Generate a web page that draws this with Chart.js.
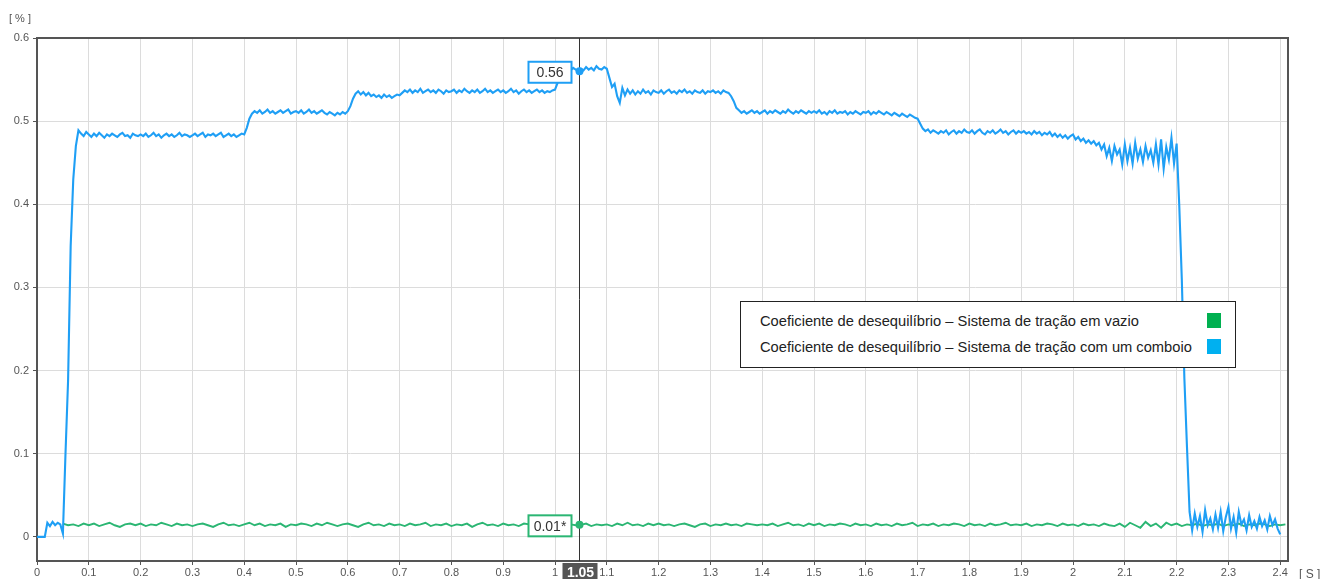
<!DOCTYPE html>
<html>
<head>
<meta charset="utf-8">
<script src="https://cdn.jsdelivr.net/npm/chart.js@4.4.1/dist/chart.umd.min.js"></script>
<style>
    body { margin: 0; background: #fff; font-family: "Liberation Sans", Arial, sans-serif; }
    #wrap { position: relative; width: 1335px; height: 579px; }
    #legend {
        position: absolute; left: 740px; top: 301px; width: 494px; height: 65px;
        border: 1.5px solid #222; background: #fff; color: #222; font-size: 14.7px;
    }
    #legend .row { position: absolute; left: 19px; right: 14px; height: 16px; line-height: 16px; }
    #legend .sw { position: absolute; right: 0; top: 0; width: 14px; height: 15px; }
</style>
</head>
<body>
<div id="wrap">
    <canvas id="chart" width="1335" height="579"></canvas>
    <div id="legend"></div>
</div>
<script>
// ---- data ----
const seriesNames = [
    'Coeficiente de desequilíbrio – Sistema de tração em vazio',
    'Coeficiente de desequilíbrio – Sistema de tração com um comboio'
];
const legendColors = ['#00b050', '#00b0f0'];
const lineColors = ['#2bb673', '#1f9ff5'];

// blue series: one sample every 0.005 s starting at 0
const blueStart = 0, blueStep = 0.005;
const blueValues = [
    0, 0, 0, 0, 0.017, 0.013, 0.018, 0.014, 0.017, 0.015, 0.004, 0.1, 0.188, 0.35, 0.43, 0.47, 0.489, 0.485, 0.482, 0.487,
    0.484, 0.481, 0.485, 0.482, 0.486, 0.483, 0.480, 0.484, 0.482, 0.485, 0.483, 0.481, 0.484, 0.486, 0.482, 0.483, 0.480, 0.485, 0.483, 0.482,
    0.484, 0.482, 0.485, 0.481, 0.483, 0.486, 0.482, 0.484, 0.480, 0.483, 0.485, 0.482, 0.484, 0.481, 0.483, 0.486, 0.482, 0.484, 0.483, 0.481,
    0.483, 0.485, 0.482, 0.484, 0.486, 0.481, 0.484, 0.483, 0.485, 0.482, 0.484, 0.486, 0.481, 0.483, 0.485, 0.482, 0.484, 0.481, 0.483, 0.485,
    0.484, 0.492, 0.503, 0.509, 0.512, 0.510, 0.513, 0.509, 0.511, 0.514, 0.510, 0.512, 0.509, 0.511, 0.513, 0.510, 0.512, 0.514, 0.509, 0.511,
    0.512, 0.510, 0.513, 0.509, 0.511, 0.514, 0.510, 0.512, 0.509, 0.511, 0.513, 0.510, 0.508, 0.511, 0.509, 0.507, 0.510, 0.508, 0.511, 0.509,
    0.512, 0.518, 0.527, 0.533, 0.536, 0.532, 0.535, 0.531, 0.534, 0.530, 0.532, 0.529, 0.531, 0.528, 0.532, 0.529, 0.531, 0.528, 0.530, 0.532,
    0.531, 0.534, 0.537, 0.535, 0.538, 0.534, 0.537, 0.535, 0.539, 0.534, 0.536, 0.538, 0.535, 0.537, 0.534, 0.538, 0.536, 0.533, 0.537, 0.535,
    0.536, 0.538, 0.534, 0.537, 0.535, 0.539, 0.536, 0.534, 0.537, 0.535, 0.538, 0.534, 0.536, 0.539, 0.535, 0.537, 0.534, 0.536, 0.538, 0.535,
    0.537, 0.534, 0.536, 0.539, 0.535, 0.537, 0.533, 0.536, 0.538, 0.535, 0.537, 0.534, 0.536, 0.538, 0.535, 0.537, 0.534, 0.536, 0.535, 0.537,
    0.538, 0.546, 0.555, 0.559, 0.562, 0.565, 0.561, 0.564, 0.562, 0.560, 0.563, 0.561, 0.565, 0.562, 0.564, 0.561, 0.566, 0.563, 0.562, 0.565,
    0.563, 0.552, 0.541, 0.545, 0.530, 0.522, 0.540, 0.531, 0.538, 0.533, 0.537, 0.532, 0.536, 0.533, 0.538, 0.534, 0.536, 0.532, 0.537, 0.535,
    0.534, 0.537, 0.533, 0.536, 0.538, 0.534, 0.536, 0.533, 0.537, 0.535, 0.538, 0.534, 0.536, 0.533, 0.537, 0.535, 0.534, 0.537, 0.533, 0.536,
    0.535, 0.537, 0.534, 0.536, 0.533, 0.537, 0.535, 0.534, 0.530, 0.524, 0.516, 0.513, 0.510, 0.512, 0.509, 0.511, 0.513, 0.510, 0.512, 0.509,
    0.511, 0.513, 0.509, 0.512, 0.510, 0.513, 0.511, 0.509, 0.512, 0.510, 0.514, 0.511, 0.509, 0.512, 0.510, 0.513, 0.511, 0.509, 0.512, 0.510,
    0.512, 0.510, 0.513, 0.509, 0.511, 0.508, 0.512, 0.510, 0.513, 0.509, 0.511, 0.510, 0.512, 0.508, 0.511, 0.509, 0.512, 0.510, 0.508, 0.511,
    0.510, 0.512, 0.508, 0.511, 0.509, 0.512, 0.510, 0.508, 0.511, 0.509, 0.507, 0.510, 0.508, 0.506, 0.509, 0.507, 0.505, 0.508, 0.506, 0.504,
    0.503, 0.497, 0.491, 0.488, 0.490, 0.486, 0.489, 0.487, 0.485, 0.488, 0.486, 0.489, 0.484, 0.487, 0.489, 0.485, 0.488, 0.486, 0.490, 0.487,
    0.486, 0.489, 0.485, 0.488, 0.490, 0.486, 0.484, 0.488, 0.486, 0.489, 0.485, 0.487, 0.490, 0.486, 0.488, 0.484, 0.487, 0.489, 0.485, 0.488,
    0.486, 0.488, 0.485, 0.487, 0.484, 0.488, 0.485, 0.487, 0.483, 0.486, 0.484, 0.487, 0.482, 0.485, 0.481, 0.484, 0.480, 0.483, 0.479, 0.482,
    0.484, 0.478, 0.481, 0.476, 0.479, 0.474, 0.477, 0.473, 0.476, 0.471, 0.474, 0.466, 0.472, 0.458, 0.468, 0.452, 0.470, 0.460, 0.466, 0.448,
    0.472, 0.452, 0.468, 0.449, 0.474, 0.455, 0.466, 0.451, 0.470, 0.456, 0.465, 0.450, 0.472, 0.448, 0.478, 0.443, 0.469, 0.454, 0.480, 0.449,
    0.473, 0.40, 0.31, 0.19, 0.108, 0.03, 0.008, 0.028, 0.012, 0.025, 0.006, 0.032, 0.014, 0.022, 0.009, 0.027, 0.011, 0.03, 0.007, 0.024,
    0.036, 0.01, 0.024, 0.005, 0.03, 0.015, 0.021, 0.008, 0.026, 0.012, 0.019, 0.01, 0.024, 0.013, 0.02, 0.009, 0.025, 0.014, 0.021, 0.01,
    0.003
];

// green series: one sample every 0.01 s starting at 0.05
const greenStart = 0.05, greenStep = 0.01;
const greenValues = [
    0.016, 0.014, 0.015, 0.013, 0.016,
    0.014, 0.016, 0.013, 0.015, 0.017, 0.014, 0.012, 0.015, 0.016, 0.014,
    0.016, 0.013, 0.015, 0.014, 0.017, 0.015, 0.013, 0.016, 0.014, 0.015,
    0.013, 0.015, 0.016, 0.014, 0.012, 0.015, 0.017, 0.014, 0.015, 0.013,
    0.015, 0.017, 0.014, 0.016, 0.013, 0.015, 0.014, 0.016, 0.012, 0.015,
    0.014, 0.016, 0.015, 0.013, 0.016, 0.014, 0.017, 0.015, 0.013, 0.015,
    0.016, 0.014, 0.012, 0.015, 0.017, 0.014, 0.015, 0.013, 0.016, 0.014,
    0.015, 0.013, 0.016, 0.014, 0.015, 0.017, 0.013, 0.015, 0.014, 0.016,
    0.013, 0.015, 0.014, 0.016, 0.012, 0.015, 0.017, 0.014, 0.015, 0.013,
    0.016, 0.014, 0.015, 0.013, 0.016, 0.015, 0.012, 0.014, 0.016, 0.015,
    0.014, 0.016, 0.013, 0.015, 0.014, 0.0145, 0.016, 0.013, 0.015, 0.014,
    0.015, 0.013, 0.016, 0.014, 0.017, 0.014, 0.015, 0.013, 0.016, 0.014,
    0.016, 0.014, 0.015, 0.013, 0.015, 0.016, 0.014, 0.012, 0.015, 0.016,
    0.013, 0.015, 0.014, 0.016, 0.014, 0.015, 0.013, 0.016, 0.015, 0.014,
    0.015, 0.014, 0.016, 0.013, 0.015, 0.017, 0.014, 0.015, 0.013, 0.016,
    0.014, 0.016, 0.013, 0.015, 0.014, 0.016, 0.015, 0.013, 0.016, 0.014,
    0.015, 0.013, 0.016, 0.014, 0.015, 0.013, 0.016, 0.014, 0.015, 0.017,
    0.013, 0.015, 0.014, 0.016, 0.013, 0.015, 0.014, 0.016, 0.015, 0.013,
    0.016, 0.014, 0.015, 0.013, 0.016, 0.014, 0.015, 0.017, 0.014, 0.015,
    0.014, 0.016, 0.013, 0.015, 0.014, 0.016, 0.015, 0.013, 0.016, 0.014,
    0.015, 0.013, 0.016, 0.014, 0.015, 0.013, 0.016, 0.014, 0.013, 0.016,
    0.012, 0.017, 0.014, 0.011, 0.018, 0.013, 0.016, 0.011, 0.017, 0.014,
    0.016, 0.013, 0.015, 0.014, 0.016, 0.013, 0.015, 0.014, 0.016, 0.013,
    0.015, 0.014, 0.016, 0.013, 0.015, 0.014, 0.016, 0.015, 0.013, 0.015,
    0.014, 0.015
];

// crosshair (cursor) read-out
const cursorX = 1.046;
const cursorLabel = '1.05';
const cursorValueLabels = ['0.01*', '0.56'];   // green, blue

// axis ranges
const xMin = 0, xMax = 2.415, xStep = 0.1;
const yMin = -0.029, yMax = 0.6, yStep = 0.1;

// ---- helpers ----
function toPoints(start, step, values) {
    return values.map((v, i) => ({ x: +(start + i * step).toFixed(4), y: v }));
}

function valueAt(start, step, values, x) {
    const i = Math.round((x - start) / step);
    return values[Math.max(0, Math.min(values.length - 1, i))];
}

const FONT = '"Liberation Sans", Arial, sans-serif';

// plot frame, axis units and cursor read-out
const overlayPlugin = {
    id: 'overlay',
    afterDraw(chart) {
        const ctx = chart.ctx;
        const a = chart.chartArea;
        const xs = chart.scales.x, ys = chart.scales.y;
        ctx.save();

        // top + right frame
        ctx.strokeStyle = '#555';
        ctx.lineWidth = 2;
        ctx.beginPath();
        ctx.moveTo(a.left, a.top);
        ctx.lineTo(a.right, a.top);
        ctx.lineTo(a.right, a.bottom);
        ctx.stroke();

        // units
        ctx.fillStyle = '#555';
        ctx.font = '11px ' + FONT;
        ctx.textBaseline = 'middle';
        ctx.textAlign = 'left';
        ctx.fillText('[ % ]', 9, 19);
        ctx.font = '12px ' + FONT;
        ctx.fillText('[ S ]', 1299, 575);

        // cursor line
        const cx = Math.round(xs.getPixelForValue(cursorX)) + 0.5;
        ctx.strokeStyle = '#333';
        ctx.lineWidth = 1;
        ctx.beginPath();
        ctx.moveTo(cx, a.top);
        ctx.lineTo(cx, a.bottom);
        ctx.stroke();

        // value boxes + markers
        const vals = [
            valueAt(greenStart, greenStep, greenValues, cursorX),
            valueAt(blueStart, blueStep, blueValues, cursorX)
        ];
        vals.forEach((v, k) => {
            const py = ys.getPixelForValue(v);
            ctx.fillStyle = lineColors[k];
            ctx.beginPath();
            ctx.arc(cx, py, 4, 0, Math.PI * 2);
            ctx.fill();

            const w = 43, h = 21, bx = cx - 8 - w, by = py - h / 2 + 1;
            ctx.fillStyle = '#fff';
            ctx.fillRect(bx, by, w, h);
            ctx.strokeStyle = lineColors[k];
            ctx.lineWidth = 2;
            ctx.strokeRect(bx, by, w, h);
            ctx.fillStyle = '#333';
            ctx.font = '14px ' + FONT;
            ctx.textAlign = 'center';
            ctx.fillText(cursorValueLabels[k], bx + w / 2, by + h / 2 + 1);
        });

        // cursor x label
        ctx.fillStyle = '#555';
        ctx.fillRect(cx - 17, a.bottom + 2, 35, 20);
        ctx.fillStyle = '#fff';
        ctx.font = 'bold 14px ' + FONT;
        ctx.textAlign = 'center';
        ctx.fillText(cursorLabel, cx + 1, a.bottom + 12);

        ctx.restore();
    }
};

const chart = new Chart(document.getElementById('chart').getContext('2d'), {
    type: 'line',
    data: {
        datasets: [
            {
                label: seriesNames[1],
                data: toPoints(blueStart, blueStep, blueValues),
                borderColor: lineColors[1],
                borderWidth: 2.1,
                pointRadius: 0,
                tension: 0
            },
            {
                label: seriesNames[0],
                data: toPoints(greenStart, greenStep, greenValues),
                borderColor: lineColors[0],
                borderWidth: 1.9,
                pointRadius: 0,
                tension: 0
            }
        ]
    },
    options: {
        responsive: false,
        animation: false,
        parsing: false,
        layout: { padding: { left: 0, top: 38, right: 47, bottom: 0 } },
        plugins: { legend: { display: false }, tooltip: { enabled: false } },
        scales: {
            x: {
                type: 'linear',
                min: xMin, max: xMax,
                border: { color: '#555', width: 2 },
                grid: { color: '#dcdcdc', tickColor: '#555', tickLength: 4 },
                ticks: {
                    stepSize: xStep, includeBounds: false, padding: 1,
                    color: '#555', font: { size: 11, family: FONT },
                    maxRotation: 0, autoSkip: false,
                    callback: v => String(+v.toFixed(1))
                },
                afterFit: s => { s.height = 18; }
            },
            y: {
                min: yMin, max: yMax,
                border: { color: '#555', width: 2 },
                grid: { color: '#dcdcdc', tickColor: '#555', tickLength: 4 },
                ticks: {
                    stepSize: yStep, includeBounds: false, padding: 4,
                    color: '#555', font: { size: 11, family: FONT },
                    callback: v => String(+v.toFixed(1))
                },
                afterFit: s => { s.width = 37; }
            }
        }
    },
    plugins: [overlayPlugin]
});

// legend box
const legendEl = document.getElementById('legend');
seriesNames.forEach((name, i) => {
    const row = document.createElement('div');
    row.className = 'row';
    row.style.top = (11 + i * 26) + 'px';
    row.innerHTML = '<span>' + name + '</span><span class="sw" style="background:' + legendColors[i] + '"></span>';
    legendEl.appendChild(row);
});
</script>
</body>
</html>
